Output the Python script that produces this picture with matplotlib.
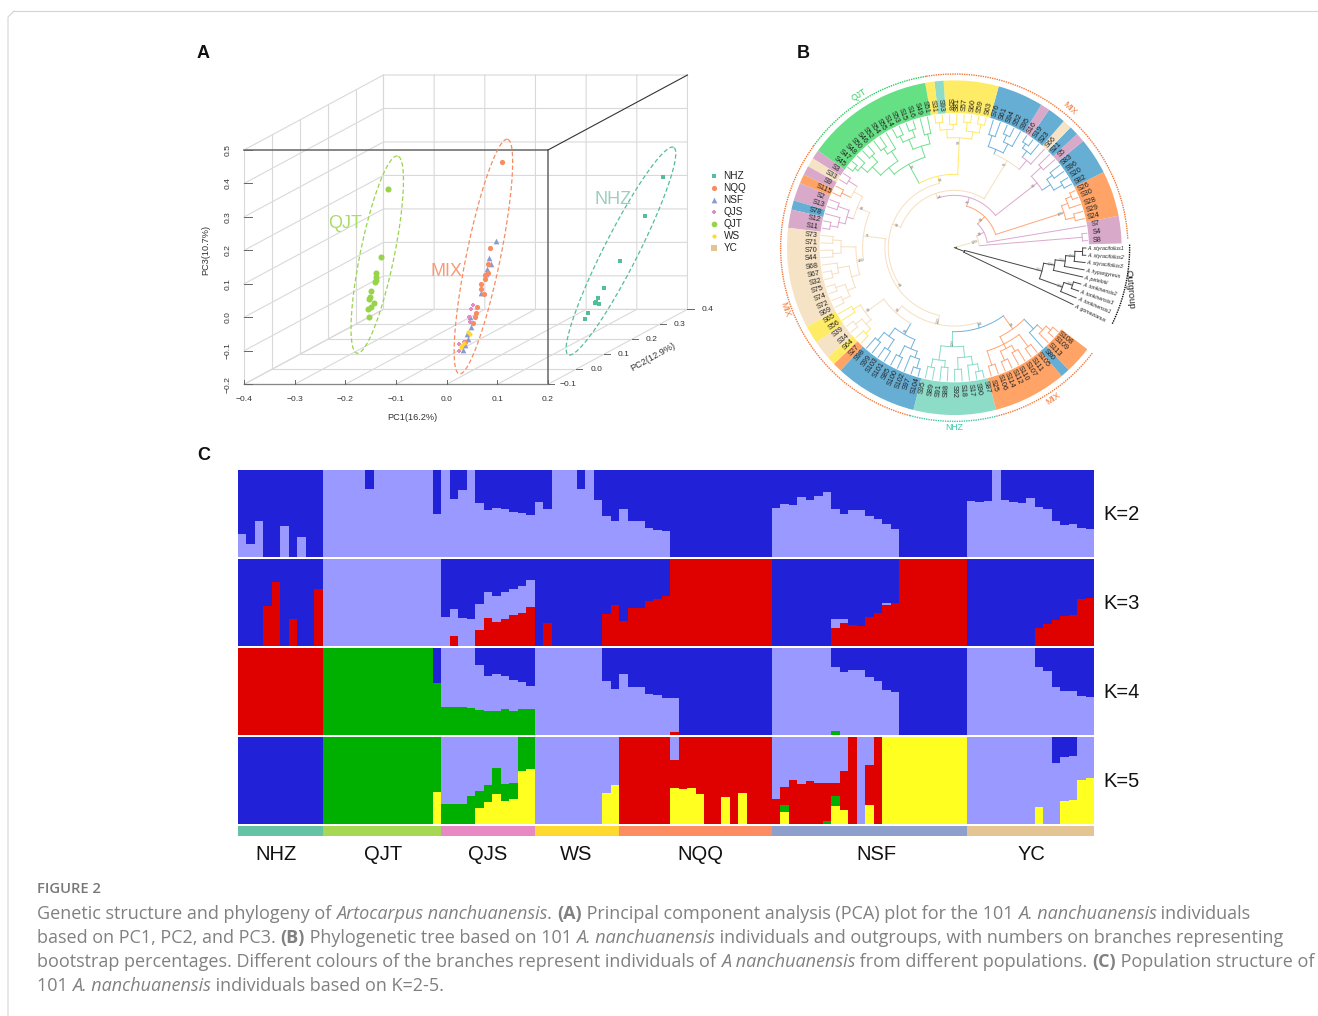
import numpy as np
import matplotlib
matplotlib.use("Agg")
import matplotlib.pyplot as plt

plt.rcParams['font.family'] = ['Liberation Sans', 'DejaVu Sans']

W, H = 1318, 1016

# ---------- panel A, values (projected on the front plane)
pca_nhz_x = [.427, .391, .343, .310, .299, .292, .295, .300, .279, .273]
pca_nhz_y = [.420, .304, .167, .087, .057, .043, .045, .039, .013, -.004]
pca_qjt_x = [-.116, -.130, -.140, -.140, -.141, -.140, -.150, -.151, -.153, -.143, -.149, -.155, -.153]
pca_qjt_y = [.382, .180, .133, .122, .105, .112, .078, .060, .055, .042, .030, .024, .001]
pca_nqq_x = [.110, .086, .081, .081, .076, .075, .067, .067, .073, .059, .057, .056, .051, .037]
pca_nqq_y = [.465, .207, .159, .132, .126, .114, .101, .086, .069, .030, .012, .002, -.018, -.073]
pca_nsf_x = [.097, .083, .087, .080, .078, .067, .047, .048, .041, .042, .037, .032]
pca_nsf_y = [.229, .177, .160, .144, .130, .074, .002, -.030, -.050, -.066, -.082, -.099]
pca_qjs_x = [.052, .049, .044, .047, .025, .025, .034]
pca_qjs_y = [.037, .024, .000, -.013, -.081, -.102, -.073]
pca_ws_x = [.042, .047, .034, .031, .029]
pca_ws_y = [-.043, -.049, -.076, -.082, -.089]

pc1_ticks = [-0.4, -0.3, -0.2, -0.1, 0.0, 0.1, 0.2]
pc2_ticks = [-0.1, 0.0, 0.1, 0.2, 0.3, 0.4]
pc3_ticks = [-0.2, -0.1, 0.0, 0.1, 0.2, 0.3, 0.4, 0.5]
legend_names = ['NHZ', 'NQQ', 'NSF', 'QJS', 'QJT', 'WS', 'YC']

C_NHZ, C_NQQ, C_NSF, C_QJS, C_QJT, C_WS, C_YC = '#52BE9B', '#F98B60', '#8A9CCF', '#E78AC3', '#98D44A', '#FFD92F', '#E5C494'

# top and bottom end of the dashed ellipses
ell_qjt = [(-.097, .482), (-.177, -.107)]
ell_mix = [(.120, .532), (.025, -.169)]
ell_nhz = [(.448, .508), (.240, -.112)]

# ---------- panel B
tip_names = ['S8', 'S4', 'S7', 'S24', 'S29', 'S28', 'S30', 'S26', 'S82', 'S20', 'S96', 'S83', 'S5', 'S21', 'S66',
             'S23', 'S19', 'S16', 'S95', 'S52', 'S94', 'S61', 'S76', 'S63', 'S59', 'S60', 'S57', 'S81', 'S58', 'S93',
             'S31', 'S51', 'S49', 'S16', 'S15', 'S53', 'S14', 'S55', 'S54', 'S52', 'S46', 'S50', 'S48', 'S47', 'S45',
             'S3', 'S33', 'S9', 'S115', 'S2', 'S13', 'S78', 'S12', 'S11', 'S73', 'S71', 'S70', 'S44', 'S68', 'S67',
             'S32', 'S75', 'S74', 'S72', 'S69', 'S65', 'S56', 'S39', 'S34', 'S64', 'S27', 'S98', 'S99', 'S103', 'S101',
             'S85', 'S100', 'S102', 'S97', 'S104', 'S95', 'S89', 'S91', 'S88', 'S92', 'S18', 'S17', 'S90', 'S87', 'S25',
             'S106', 'S114', 'S112', 'S110', 'S107', 'S111', 'S105', 'S80', 'S113', 'S109', 'S108']
# sector colour and how many tips it holds, going anticlockwise from the right
sector_keys = ['p', 'o', 'b', 'p', 'b', 'e', 'b', 'p', 'b', 'y', 't', 'y', 'g', 'p', 'e', 'p', 'o', 'p', 'b', 'p',
               'e', 'y', 'e', 'y', 'o', 'b', 't', 'o', 'b', 'o']
sector_sizes = [3, 5, 4, 1, 1, 1, 2, 1, 5, 6, 1, 1, 14, 1, 1, 1, 1, 2, 1, 2, 11, 2, 2, 1, 1, 9, 9, 8, 1, 3]
fill_cols = {'p': '#D8A9C9', 'o': '#FFA366', 'b': '#66AED4', 'e': '#F6E3C6', 'y': '#FFEC66', 't': '#8CDCC8', 'g': '#66E085'}
line_cols = {'p': '#DDA8CC', 'o': '#FFA574', 'b': '#6FB3DA', 'e': '#F7DFBF', 'y': '#FFE96A', 't': '#86DCC8', 'g': '#70E08E', 'k': '#444444'}
outgroup_names = ['A. styracifolius1', 'A. styracifolius2', 'A. styracifolius3', 'A. hypargyreus', 'A. petelotii',
                  'A. tonkinensis2', 'A. tonkinensis3', 'A. tonkinensis1', 'A. gomezianus']

# clades as (radius, colour, children, support); ints are tips, negative ints the outgroup
orange_a = (345, 'o', [(372, 'o', [3, 4]), (365, 'o', [5, (383, 'o', [6, 7])])], '100')
clade_p = (315, 'p', [(345, 'b', [(375, 'b', [8, 9]), (365, 'b', [10, 11])]), (355, 'p', [12, 13])], '96')
clade_q = (305, 'e', [(340, 'p', [14, (362, 'b', [15, (378, 'b', [16, 17])])]),
                      (320, 'b', [(350, 'b', [18, (372, 'b', [19, 20])]), (355, 'b', [21, 22])])], '71')
clade_y = (330, 'y', [(352, 'y', [(378, 'y', [23, 24]), (378, 'y', [25, 26])]),
                      (355, 'y', [(370, 'y', [27, 28]), (378, 'y', [29, 30])])], '98')
clade_g = (285, 'g', [(320, 'g', [(350, 'g', [31, 32]), (352, 'g', [(375, 'g', [33, 34]), (372, 'g', [35, 36])])]),
                      (310, 'g', [(345, 'g', [37, (365, 'g', [38, 39])]),
                                  (345, 'g', [(370, 'g', [40, 41]), (370, 'g', [42, (382, 'g', [43, 44])])])])], '85')
clade_l1 = (315, 'e', [(345, 'e', [(375, 'p', [45, 46]), (375, 'o', [47, 48])]),
                       (335, 'p', [(370, 'p', [49, 50]), (355, 'p', [51, (378, 'p', [52, 53])])])], '88')
clade_l2 = (295, 'e', [(340, 'e', [(365, 'e', [54, 55]), (365, 'e', [56, 57])]),
                       (320, 'e', [(355, 'e', [58, (375, 'e', [59, 60])]),
                                   (345, 'e', [(375, 'e', [61, 62]), (370, 'e', [63, 64])])])], '100')
clade_b6 = (330, 'e', [(355, 'y', [65, 66]), (350, 'e', [(375, 'e', [67, 68]), (370, 'y', [69, 70])])], '98')
clade_blue = (300, 'b', [(330, 'b', [(360, 'b', [71, 72]), (365, 'b', [73, 74])]),
                         (330, 'b', [(365, 'b', [75, 76]), (350, 'b', [77, (378, 'b', [78, 79])])])], '99')
clade_teal = (297, 't', [(340, 't', [(365, 't', [80, 81]), (360, 't', [82, 83])]),
                         (330, 't', [(365, 't', [84, 85]), (355, 't', [86, (378, 't', [87, 88])])])], '100')
clade_or = (300, 'o', [(325, 'o', [(370, 'o', [89, 90]), (340, 'o', [(370, 'o', [91, 92]), (360, 'o', [93, 94])]),
                                   (370, 'o', [95, 96])]),
                       (340, 'b', [97, (362, 'o', [98, (380, 'o', [99, 100])])])], '99')
node_low = (252, 'b', [clade_teal, clade_or], '98')
node_mid = (262, 'e', [clade_b6, clade_blue], '87')
node_9 = (235, 'e', [node_mid, node_low], '100')
clade_l = (275, 'e', [clade_l1, clade_l2], '77')
node_8 = (208, 'e', [clade_l, node_9], '95')
clade_yg = (220, 'y', [clade_y, clade_g], '88')
node_7 = (198, 'e', [clade_yg, node_8], '99')
node_6 = (172, 'e', [clade_q, node_7], '71')
node_5 = (157, 'p', [clade_p, node_6], '71')
node_3 = (130, 'o', [orange_a, node_5], '91')
node_2 = (100, 'p', [2, node_3], '92')
node_1 = (75, 'e', [(385, 'p', [0, 1]), node_2], '100')
outgroup = (32, 'k', [(272, 'k', [(305, 'k', [(335, 'k', [(362, 'k', [(385, 'k', [-1, -2]), -3], '100'), -4], '100'), -5], '100'),
                                  (345, 'k', [(372, 'k', [-6, -7], '100'), -8], '100')], '100'), -9])
tree_root = (6, 'k', [outgroup, node_1])

# ---------- panel C, population sizes and the cumulative height of each colour per individual
pop_names = ['NHZ', 'QJT', 'QJS', 'WS', 'NQQ', 'NSF', 'YC']
pop_sizes = [10, 14, 11, 10, 18, 23, 15]
pop_colors = ['#66C2A5', '#A6D854', '#E78AC3', '#FFD92F', '#FC8D62', '#8DA0CB', '#E5C494']
pop_label_x = [276, 383, 488, 576, 700, 876, 1032]

k2_light = ([.27, .15, .41, 0, 0, .36, 0, .23, 0, 0]
            + [1, 1, 1, 1, 1, .785, 1, 1, 1, 1, 1, 1, 1, .50]
            + [1, .667, .766, 1, .625, .54, .56, .55, .52, .51, .48]
            + [.63, .55, 1, 1, 1, .78, 1, .655, .475, .41]
            + [.55, .41, .41, .33, .31, .295] + [0] * 12
            + [.567, .605, .60, .69, .65, .70, .743, .55, .494, .54, .54, .475, .437, .383, .32] + [0] * 8
            + [.644, .63, .644, 1, .66, .63, .617, .68, .58, .555, .414, .364, .38, .333, .32])

k3_light = ([0] * 10 + [1] * 14
            + [.33, .43, .32, .313, .48, .615, .573, .622, .653, .69, .756]
            + [0] * 10 + [0] * 18
            + [0] * 7 + [.305, .305, 0, 0, 0, 0, .492, 0] + [0] * 8
            + [0] * 15)
k3_red = ([0, 0, 0, .458, .733, 0, .31, 0, 0, .653] + [0] * 14
          + [0, .115, 0, 0, .187, .32, .28, .313, .355, .38, .443]
          + [0, .267, 0, 0, 0, 0, 0, 0, .366, .47]
          + [.29, .435, .435, .52, .538, .573] + [1] * 12
          + [0] * 7 + [.21, .267, .244, .233, .328, .378, .47, .492] + [1] * 8
          + [0] * 8 + [.206, .248, .298, .347, .36, .542, .557])

k4_light = ([0] * 10 + [0] * 14
            + [1, 1, 1, 1, .80, .675, .706, .683, .637, .61, .565]
            + [1] * 8 + [.626, .53]
            + [.70, .546, .553, .466, .458, .427, .43] + [0] * 11
            + [1] * 7 + [.78, .72, .744, .744, .67, .615, .52, .50] + [0] * 8
            + [1] * 8 + [.78, .733, .557, .508, .508, .454, .44])
k4_green = ([0] * 10 + [1] * 13 + [.60]
            + [.324, .324, .317, .313, .286, .28, .28, .30, .28, .30, .294]
            + [0] * 10 + [0] * 18
            + [0] * 7 + [.05] + [0] * 15
            + [0] * 15)
k4_red = ([1] * 10 + [0] * 14 + [0] * 11 + [0] * 10
          + [0] * 6 + [.04] + [0] * 11
          + [0] * 23 + [0] * 15)

k5_light = ([0] * 10 + [0] * 14
            + [1] * 9 + [0, 0]
            + [1] * 10
            + [0] * 6 + [1] + [0] * 11
            + [1] * 13 + [0] * 10
            + [1] * 10 + [.70, .775, .782, 1, 1])
k5_red = ([0] * 10 + [0] * 14 + [0] * 11 + [0] * 10
          + [1] * 6 + [.74] + [1] * 11
          + [.286, .42, .504, .462, .489, .466, .466, .477, .607, 1, 0, .683, 1] + [0] * 10
          + [0] * 15)
k5_green = ([0] * 10 + [1] * 14
            + [.233, .225, .229, .32, .385, .447, .645, .462, .47, 1, 1]
            + [0] * 10 + [0] * 18
            + [0, .218, 0, 0, 0, 0, .03, .32, 0, 0, 0, 0, 0] + [0] * 10
            + [0] * 15)
k5_yellow = ([0] * 10 + [0] * 13 + [.366]
             + [0, 0, 0, 0, .183, .248, .347, .27, .282, .61, .63]
             + [0] * 8 + [.351, .447]
             + [0] * 6 + [.412, .397, .412, .344, 0, 0, .305, 0, .359, 0, 0, 0]
             + [0, .137, 0, 0, 0, 0, 0, .206, .16, 0, 0, .218, 0] + [1] * 10
             + [0] * 8 + [.195, 0, 0, .27, .275, .508, .523])

C_BLUE, C_LIGHT, C_RED, C_GREEN, C_YELLOW = '#2121D8', '#9999FF', '#DF0000', '#00B000', '#FFFF20'
k_rows = [('K=2', 470, [(k2_light, C_LIGHT)]),
          ('K=3', 559, [(k3_light, C_LIGHT), (k3_red, C_RED)]),
          ('K=4', 648, [(k4_light, C_LIGHT), (k4_green, C_GREEN), (k4_red, C_RED)]),
          ('K=5', 737, [(k5_light, C_LIGHT), (k5_red, C_RED), (k5_green, C_GREEN), (k5_yellow, C_YELLOW)])]

caption_lines = [
    [('Genetic structure and phylogeny of ', 'n'), ('Artocarpus nanchuanensis', 'i'), ('. ', 'n'), ('(A)', 'b'),
     (' Principal component analysis (PCA) plot for the 101 ', 'n'), ('A. nanchuanensis', 'i'), (' individuals', 'n')],
    [('based on PC1, PC2, and PC3. ', 'n'), ('(B)', 'b'), (' Phylogenetic tree based on 101 ', 'n'),
     ('A. nanchuanensis', 'i'), (' individuals and outgroups, with numbers on branches representing', 'n')],
    [('bootstrap percentages. Different colours of the branches represent individuals of ', 'n'),
     ('A nanchuanensis', 'i'), (' from different populations. ', 'n'), ('(C)', 'b'), (' Population structure of', 'n')],
    [('101 ', 'n'), ('A. nanchuanensis', 'i'), (' individuals based on K=2-5.', 'n')],
]


def px_axes(fig, left, top, right, bottom, **kw):
    return fig.add_axes([left / W, 1 - bottom / H, (right - left) / W, (bottom - top) / H], **kw)


fig = plt.figure(figsize=(W / 100, H / 100), dpi=100, facecolor='white')

# page level things, pixel coordinates
page = px_axes(fig, 0, 0, W, H)
page.set_xlim(0, W)
page.set_ylim(H, 0)
page.axis('off')
page.plot([8, 8, 14], [1016, 17, 11], color='#d4d4d4', lw=0.8)
page.plot([14, 1318], [11, 11], color='#d4d4d4', lw=0.8)
for letter, lx, ly in [('A', 197, 54), ('B', 797, 54), ('C', 197, 455)]:
    page.text(lx, ly, letter, fontsize=13, fontweight='bold', va='center', color='#111111')

# ---------- A
sx, sy = 304 / 0.6, 234.3 / 0.7
ax_a = px_axes(fig, 190, 60, 760, 430)
ax_a.set_xlim(-0.4 + (190 - 244) / sx, -0.4 + (760 - 244) / sx)
ax_a.set_ylim(-0.2 - (430 - 384.3) / sy, 0.5 + (150 - 60) / sy)
ax_a.axis('off')


def proj(pc1, pc2, pc3):
    return pc1 + (pc2 + 0.1) * 0.5505, pc3 + (pc2 + 0.1) * 0.448


GRID = '#d9d9d9'
grid_kw = dict(color=GRID, lw=0.8, zorder=1)
for v in pc3_ticks:
    a, b, c = proj(-.4, -.1, v), proj(-.4, .4, v), proj(.2, .4, v)
    ax_a.plot([a[0], b[0], c[0]], [a[1], b[1], c[1]], **grid_kw)
for v in pc1_ticks:
    a, b, c = proj(v, -.1, -.2), proj(v, .4, -.2), proj(v, .4, .5)
    ax_a.plot([a[0], b[0], c[0]], [a[1], b[1], c[1]], **grid_kw)
for v in pc2_ticks:
    a, b, c = proj(-.4, v, .5), proj(-.4, v, -.2), proj(.2, v, -.2)
    ax_a.plot([a[0], b[0], c[0]], [a[1], b[1], c[1]], **grid_kw)

ax_a.plot([-.4, .2, .2], [.5, .5, -.2], color='#666666', lw=1.1, zorder=2)
e = proj(.2, .4, .5)
ax_a.plot([.2, e[0]], [.5, e[1]], color='#333333', lw=0.8, zorder=2)
ax_a.plot([-.4, .2], [-.2, -.2], color='#888888', lw=0.9, zorder=2)

for v in pc1_ticks:
    ax_a.plot([v, v], [-.2, -.187], color='#666666', lw=0.7, zorder=2)
    ax_a.text(v, -.245, '%.1f' % v if v >= 0 else '\u2212%.1f' % abs(v), ha='center', va='center', fontsize=6.1, color='#333333')
for v in pc3_ticks:
    ax_a.plot([-.4, -.385], [v, v], color='#666666', lw=0.7, zorder=2)
    ax_a.text(-.432, v, '%.1f' % v if v >= 0 else '\u2212%.1f' % abs(v), ha='center', va='center', rotation=90, fontsize=6.1, color='#333333')
for v in pc2_ticks:
    p = proj(.2, v, -.2)
    ax_a.plot([p[0], p[0] + .012], [p[1], p[1]], color='#666666', lw=0.7, zorder=2)
    ax_a.text(p[0] + .040, p[1], '%.1f' % v if v >= 0 else '\u2212%.1f' % abs(v), ha='center', va='center', fontsize=6.1, color='#333333')
ax_a.text(-.4 + (412 - 244) / sx, -.2 - (417 - 384.3) / sy, 'PC1(16.2%)', ha='center', va='center', fontsize=6.6, color='#333333')
ax_a.text(-.4 + (206 - 244) / sx, -.2 + (384.3 - 250) / sy, 'PC3(10.7%)', ha='center', va='center', rotation=90, fontsize=6.6, color='#333333')
ax_a.text(-.4 + (653 - 244) / sx, -.2 + (384.3 - 357) / sy, 'PC2(12.9%)', ha='center', va='center', rotation=29, fontsize=6.6, color='#333333')


def ellipse(ends, half_minor_px):
    (x1, y1), (x2, y2) = ends
    cx, cy = (x1 + x2) / 2, (y1 + y2) / 2
    ux, uy = (x1 - x2) / 2 * sx, (y1 - y2) / 2 * sy
    n = np.hypot(ux, uy)
    vx, vy = -uy / n * half_minor_px, ux / n * half_minor_px
    t = np.linspace(0, 2 * np.pi, 200)
    return cx + (ux * np.cos(t) + vx * np.sin(t)) / sx, cy + (uy * np.cos(t) + vy * np.sin(t)) / sy


for ends, col in [(ell_qjt, C_QJT), (ell_mix, C_NQQ), (ell_nhz, C_NHZ)]:
    ex, ey = ellipse(ends, 17)
    ax_a.plot(ex, ey, color=col, lw=0.9, ls=(0, (3.5, 2)), zorder=3)

ax_a.scatter(pca_nhz_x, pca_nhz_y, marker='s', s=12, color=C_NHZ, lw=0, zorder=4)
ax_a.scatter(pca_qjt_x, pca_qjt_y, marker='o', s=19, color=C_QJT, lw=0, zorder=4)
ax_a.scatter(pca_nsf_x, pca_nsf_y, marker='^', s=17, color=C_NSF, lw=0, zorder=4)
ax_a.scatter(pca_nqq_x, pca_nqq_y, marker='o', s=14, color=C_NQQ, lw=0, zorder=5)
ax_a.scatter(pca_qjs_x, pca_qjs_y, marker='P', s=7, color=C_QJS, lw=0, zorder=6)
ax_a.scatter(pca_ws_x, pca_ws_y, marker='o', s=9, color=C_WS, lw=0, zorder=6)

page.set_zorder(3)
page.text(345, 224, 'QJT', fontsize=13, color='#A9DC63', ha='center', va='center')
page.text(447, 272, 'MIX', fontsize=13, color='#F99A75', ha='center', va='center')
page.text(613, 200, 'NHZ', fontsize=13, color='#9CCFBD', ha='center', va='center')
legend_marks = ['s', 'o', '^', 'P', 'o', 'o', 's']
legend_cols = [C_NHZ, C_NQQ, C_NSF, C_QJS, C_QJT, C_WS, C_YC]
legend_sizes = [12, 14, 17, 8, 17, 9, 14]
for i, name in enumerate(legend_names):
    page.scatter([714], [176 + 12 * i], marker=legend_marks[i], s=legend_sizes[i], color=legend_cols[i], lw=0)
    page.text(723.5, 176 + 12 * i, name, fontsize=7.2, va='center', color='#222222')

# ---------- B, polar axes with radius in units of 1/3 pixel
cx_b, cy_b, half_b = 954.3, 247.7, 190
ax_b = px_axes(fig, cx_b - half_b, cy_b - half_b, cx_b + half_b, cy_b + half_b, projection='polar')
ax_b.set_rlim(0, 570)
ax_b.axis('off')
ax_b.patch.set_alpha(0)

STEP = 3.18


def tip_angle(i):
    return np.deg2rad(3.05 + STEP * i)


pos = 0
for key, n in zip(sector_keys, sector_sizes):
    th = tip_angle(pos) - np.deg2rad(STEP) / 2
    ax_b.bar(th, 98, width=np.deg2rad(STEP * n), bottom=404, align='edge', color=fill_cols[key], lw=0, zorder=1)
    pos += n


def upright(deg):
    deg = deg % 360
    return deg if deg <= 90 or deg >= 270 else deg - 180


for i, name in enumerate(tip_names):
    ax_b.text(tip_angle(i), 430, name, fontsize=5.2, rotation=upright(np.rad2deg(tip_angle(i))),
              rotation_mode='anchor', ha='center', va='center', color='#222222', zorder=3)
for i, name in enumerate(outgroup_names):
    a = tip_angle(-1 - i)
    ax_b.text(a, 400, name, fontsize=3.8, style='italic', rotation=upright(np.rad2deg(a)),
              rotation_mode='anchor', ha='left', va='center', color='#222222', zorder=3)


def draw_clade(node):
    if isinstance(node, int):
        return tip_angle(node), (395 if node < 0 else 400), None
    r, key = node[0], node[1]
    done = [draw_clade(k) for k in node[2]]
    thetas = [d[0] for d in done]
    for th, kr, kk in done:
        ax_b.plot([th, th], [r, kr], color=line_cols[kk or key], lw=0.7, zorder=2)
    t = np.linspace(min(thetas), max(thetas), 60)
    ax_b.plot(t, np.full_like(t, r), color=line_cols[key], lw=0.7, zorder=2)
    mid = (min(thetas) + max(thetas)) / 2
    if len(node) > 3:
        ax_b.text(mid, r - 12, node[3], fontsize=2.8, color='#777777', ha='center', va='center', zorder=3,
                  rotation=upright(np.rad2deg(mid)), rotation_mode='anchor')
    return mid, r, key


root_th, root_r, root_key = draw_clade(tree_root)
ax_b.plot([root_th, root_th], [0, root_r], color=line_cols['k'], lw=0.7)

for (a1, a2), col in zip([(99.3, 144.2), (3.0, 99.3), (144.2, 255.2), (255.2, 284.0), (284.0, 322.6)],
                         ['#2FCB60', '#F47A38', '#F47A38', '#3CC8A8', '#F47A38']):
    t = np.deg2rad(np.linspace(a1, a2, 120))
    ax_b.plot(t, np.full_like(t, 521), color=col, lw=1.0, ls=(0, (1, 0.7)), zorder=2)
t = np.deg2rad(np.linspace(1.0, -26.0, 40))
ax_b.plot(t, np.full_like(t, 526), color='#111111', lw=1.0, ls=(0, (1, 0.7)), zorder=2)

for lab, dx, dy, rot, col in [('QJT', 268, 105, 32, '#3CCB68'), ('MIX', 898, 145, -42, '#EE7A3A'), ('MIX', 45, 748, -70, '#EE7A3A'),
                              ('MIX', 850, 1015, 35, '#EE7A3A'), ('NHZ', 553, 1103, 0, '#3CC8A8')]:
    page.text(770 + dx / 3, 60 + dy / 3, lab, fontsize=6.2, color=col, rotation=rot, ha='center', va='center')
page.text(770 + 1078 / 3, 60 + 688 / 3, 'Outgroup', fontsize=6.8, color='#222222', rotation=-85, ha='center', va='center')

# ---------- C
xs = np.arange(101)
for name, top, layers in k_rows:
    ax = px_axes(fig, 238, top, 1094, top + 87)
    ax.set_xlim(0, 101)
    ax.set_ylim(0, 1)
    ax.axis('off')
    ax.bar(xs, np.ones(101), width=1, align='edge', color=C_BLUE, lw=0)
    for values, col in layers:
        ax.bar(xs, values, width=1, align='edge', color=col, lw=0)
    page.text(1103, top + 44.5, name, fontsize=14.5, va='center', color='#111111')

ax_pop = px_axes(fig, 238, 826, 1094, 836)
ax_pop.set_xlim(0, 101)
ax_pop.set_ylim(0, 1)
ax_pop.axis('off')
starts = np.cumsum([0] + pop_sizes[:-1])
ax_pop.bar(starts, np.ones(7), width=pop_sizes, align='edge', color=pop_colors, lw=0)
for name, lx in zip(pop_names, pop_label_x):
    page.text(lx, 854, name, fontsize=14.5, ha='center', va='center', color='#111111')

# ---------- caption, runs placed one after the other
renderer = fig.canvas.get_renderer()
CAP_SIZE = 13.0
CAP_COL = '#808080'
style_kw = {'n': {}, 'i': {'style': 'italic'}, 'b': {'fontweight': 'bold'}}


def run_width(s, kw):
    t1 = page.text(0, 0, s + '|', fontsize=CAP_SIZE, family='Open Sans', **kw)
    t2 = page.text(0, 0, '|', fontsize=CAP_SIZE, family='Open Sans', **kw)
    w = t1.get_window_extent(renderer).width - t2.get_window_extent(renderer).width
    t1.remove()
    t2.remove()
    return w


page.text(37, 889, 'FIGURE 2', fontsize=10.6, family='Open Sans', color='#787878', va='center', fontweight='semibold')
for row, line in enumerate(caption_lines):
    x = 37
    for s, st in line:
        page.text(x, 914 + 24 * row, s, fontsize=CAP_SIZE, family='Open Sans', color=CAP_COL, va='center', **style_kw[st])
        x += run_width(s, style_kw[st])

fig.savefig('out.png', dpi=100)
